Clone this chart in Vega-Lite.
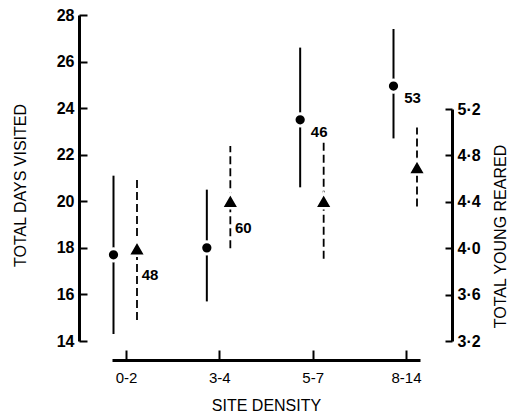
{
  "$schema": "https://vega.github.io/schema/vega-lite/v6.json",
  "width": 373,
  "height": 326,
  "autosize": {"type": "none"},
  "padding": {"left": 79, "top": 15, "right": 58, "bottom": 73},
  "background": "white",
  "config": {"view": {"stroke": null}, "font": "Liberation Sans"},
  "data": {
    "values": [
      {"density": "0-2", "series": "days", "value": 17.7, "lo": 14.3, "hi": 21.1},
      {"density": "3-4", "series": "days", "value": 18.0, "lo": 15.7, "hi": 20.5},
      {"density": "5-7", "series": "days", "value": 23.5, "lo": 20.6, "hi": 26.6, "label": "46"},
      {"density": "8-14", "series": "days", "value": 24.95, "lo": 22.7, "hi": 27.4, "label": "53"},
      {"density": "0-2", "series": "young", "value": 4.0, "lo": 3.38, "hi": 4.6, "label": "48"},
      {"density": "3-4", "series": "young", "value": 4.41, "lo": 4.0, "hi": 4.88, "label": "60"},
      {"density": "5-7", "series": "young", "value": 4.41, "lo": 3.91, "hi": 4.91},
      {"density": "8-14", "series": "young", "value": 4.7, "lo": 4.36, "hi": 5.04}
    ]
  },
  "encoding": {
    "x": {
      "field": "density",
      "type": "ordinal",
      "scale": {"type": "point", "domain": ["0-2", "3-4", "5-7", "8-14"], "range": [33, 341], "padding": 0.15},
      "axis": {
        "orient": "bottom",
        "offset": 19,
        "domainColor": "black",
        "domainWidth": 3,
        "tickColor": "black",
        "tickWidth": 2,
        "tickSize": -10,
        "labelAngle": 0,
        "labelFont": "Liberation Sans",
        "labelFontSize": 15,
        "labelColor": "black",
        "labelPadding": 20,
        "title": "SITE DENSITY",
        "titleFont": "Liberation Sans",
        "titleFontSize": 16,
        "titleFontWeight": "normal",
        "titleColor": "black",
        "titlePadding": 12,
        "grid": false
      }
    },
    "xOffset": {
      "field": "series",
      "type": "nominal",
      "scale": {"type": "point", "domain": ["days", "young"], "range": [-12.5, 11], "padding": 0}
    }
  },
  "layer": [
    {
      "transform": [{"filter": "datum.series === 'days'"}],
      "layer": [
        {
          "mark": {"type": "rule", "stroke": "black", "strokeWidth": 2},
          "encoding": {
            "y": {"field": "lo", "type": "quantitative", "scale": {"domain": [14, 28], "zero": false, "nice": false}},
            "y2": {"field": "hi"}
          }
        },
        {
          "mark": {"type": "point", "shape": "circle", "filled": true, "fill": "black", "stroke": "white", "strokeWidth": 3, "size": 150, "opacity": 1},
          "encoding": {
            "y": {
              "field": "value",
              "type": "quantitative",
              "scale": {"domain": [14, 28], "zero": false, "nice": false},
              "axis": {
                "orient": "left",
                "values": [14, 16, 18, 20, 22, 24, 26, 28],
                "domainColor": "black",
                "domainWidth": 3,
                "tickColor": "black",
                "tickWidth": 2,
                "tickSize": -8,
                "labelPadding": 13,
                "labelFont": "Liberation Sans",
                "labelFontSize": 16,
                "labelFontWeight": "bold",
                "labelColor": "black",
                "title": "TOTAL DAYS VISITED",
                "titleFont": "Liberation Sans",
                "titleFontSize": 16,
                "titleFontWeight": "normal",
                "titleColor": "black",
                "titlePadding": 28,
                "titleY": 170,
                "grid": false
              }
            }
          }
        },
        {
          "transform": [{"filter": "datum.label != null"}],
          "mark": {"type": "text", "dx": 19, "dy": 12, "align": "center", "baseline": "middle", "fontSize": 15, "fontWeight": "bold", "font": "Liberation Sans", "color": "black"},
          "encoding": {
            "y": {"field": "value", "type": "quantitative", "scale": {"domain": [14, 28], "zero": false, "nice": false}},
            "text": {"field": "label"}
          }
        }
      ]
    },
    {
      "transform": [{"filter": "datum.series === 'young'"}],
      "layer": [
        {
          "mark": {"type": "rule", "stroke": "black", "strokeWidth": 1.8, "strokeDash": [8, 4]},
          "encoding": {
            "y": {"field": "lo", "type": "quantitative", "scale": {"domain": [3.2, 5.2], "range": [326, 94], "zero": false, "nice": false}},
            "y2": {"field": "hi"}
          }
        },
        {
          "mark": {"type": "point", "shape": "triangle-up", "filled": true, "fill": "black", "stroke": "white", "strokeWidth": 2.5, "size": 300, "opacity": 1},
          "encoding": {
            "y": {
              "field": "value",
              "type": "quantitative",
              "scale": {"domain": [3.2, 5.2], "range": [326, 94], "zero": false, "nice": false},
              "axis": {
                "orient": "right",
                "values": [3.2, 3.4, 3.6, 3.8, 4.0, 4.2, 4.4, 4.6, 4.8, 5.0, 5.2],
                "labelExpr": "(round(datum.value * 10) % 4 == 0) ? replace(format(datum.value, '.1f'), '.', '·') : ''",
                "domainColor": "black",
                "domainWidth": 3,
                "tickColor": "black",
                "tickWidth": 2,
                "tickSize": -7,
                "labelPadding": 12,
                "labelFont": "Liberation Sans",
                "labelFontSize": 16,
                "labelFontWeight": "bold",
                "labelColor": "black",
                "title": "TOTAL YOUNG REARED",
                "titleAngle": 270,
                "titleBaseline": "top",
                "titleFont": "Liberation Sans",
                "titleFontSize": 16,
                "titleFontWeight": "normal",
                "titleColor": "black",
                "titlePadding": 12,
                "titleY": 221,
                "grid": false
              }
            }
          }
        },
        {
          "transform": [{"filter": "datum.label != null"}],
          "mark": {"type": "text", "dx": 13, "dy": 27, "align": "center", "baseline": "middle", "fontSize": 15, "fontWeight": "bold", "font": "Liberation Sans", "color": "black"},
          "encoding": {
            "y": {"field": "value", "type": "quantitative", "scale": {"domain": [3.2, 5.2], "range": [326, 94], "zero": false, "nice": false}},
            "text": {"field": "label"}
          }
        }
      ]
    }
  ],
  "resolve": {"scale": {"y": "independent"}}
}
